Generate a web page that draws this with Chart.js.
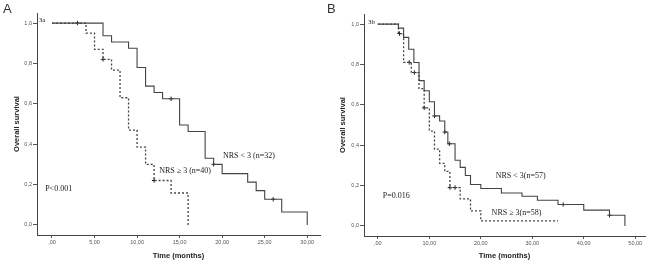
<!DOCTYPE html>
<html>
<head>
<meta charset="utf-8">
<script src="https://cdn.jsdelivr.net/npm/chart.js@4"></script>
<style>
  body { margin: 0; background: #fff; }
  #wrap { position: relative; width: 650px; height: 264px; }
  canvas { position: absolute; top: 0; }
</style>
</head>
<body>
<div id="wrap">
  <canvas id="canvasA" width="325" height="264" style="left:0"></canvas>
  <canvas id="canvasB" width="325" height="264" style="left:325px"></canvas>
</div>
<script>
// ---- panel A (3a) ----
var aLowT  = [0, 6, 7, 9, 10, 11, 12, 13, 15, 16, 18, 19, 20, 23, 24, 25, 27, 30];
var aLowS  = [1, 0.9375, 0.906, 0.875, 0.78, 0.6875, 0.656, 0.625, 0.495, 0.463, 0.33, 0.30, 0.254, 0.212, 0.17, 0.127, 0.064, 0];
var aHighT = [0, 4, 5, 6, 7, 8, 9, 10, 11, 12, 14, 16];
var aHighS = [1, 0.95, 0.87, 0.82, 0.767, 0.63, 0.47, 0.385, 0.30, 0.22, 0.158, 0];
var aLowCensT  = [14, 19, 26];
var aLowCensS  = [0.625, 0.30, 0.127];
var aHighCensT = [3, 6, 12];
var aHighCensS = [1, 0.82, 0.22];
var aXTicks = [0, 5, 10, 15, 20, 25, 30];

// ---- panel B (3b) ----
var bLowT  = [0, 4, 5, 6, 7, 8, 9, 10, 11, 12, 13, 13.6, 15, 16, 17, 18, 20, 24, 28, 31, 35, 40, 45, 48];
var bLowS  = [1, 0.98, 0.934, 0.875, 0.81, 0.72, 0.67, 0.615, 0.545, 0.52, 0.465, 0.407, 0.325, 0.29, 0.25, 0.205, 0.185, 0.163, 0.147, 0.127, 0.106, 0.078, 0.053, 0];
var bHighT = [0, 4, 5, 6.5, 8, 9, 10, 11, 12, 13, 14, 16, 18, 20, 35];
var bHighS = [1, 0.953, 0.81, 0.76, 0.68, 0.585, 0.47, 0.38, 0.31, 0.27, 0.19, 0.134, 0.074, 0.025, 0.025];
var bLowCensT  = [11, 13, 13.9, 36, 45];
var bLowCensS  = [0.545, 0.465, 0.407, 0.106, 0.053];
var bHighCensT = [4.2, 6.1, 7.1, 9, 14, 15];
var bHighCensS = [0.953, 0.81, 0.76, 0.585, 0.19, 0.19];
var bXTicks = [0, 10, 20, 30, 40, 50];

var yTicks = [0, 0.2, 0.4, 0.6, 0.8, 1.0];

function pairs(t, s) {
  return t.map(function(v, i) { return {x: v, y: s[i]}; });
}

var notesPlugin = {
  id: 'notes',
  afterDraw: function(chart) {
    var o = chart.options.plugins.notes;
    var ctx = chart.ctx;
    var xs = chart.scales.x, ys = chart.scales.y;
    ctx.save();
    ctx.fillStyle = '#333';
    ctx.font = '13px "Liberation Sans", Arial, sans-serif';
    ctx.textBaseline = 'alphabetic';
    ctx.textAlign = 'left';
    ctx.fillText(o.panel, o.panelX, 13);
    ctx.fillStyle = '#222';
    ctx.textBaseline = 'middle';
    o.items.forEach(function(it) {
      ctx.font = (it.size || 8) + 'px "Liberation Serif", "Times New Roman", serif';
      ctx.fillText(it.text, xs.getPixelForValue(it.x), ys.getPixelForValue(it.y));
    });
    ctx.restore();
  }
};

function makePanel(id, c) {
  var ctx = document.getElementById(id).getContext('2d');
  var tickFont = {family: '"Liberation Sans", Arial, sans-serif', size: 5.5};
  var titleFont = {family: '"Liberation Sans", Arial, sans-serif', size: 7.5, weight: 'bold'};
  new Chart(ctx, {
    type: 'line',
    data: {
      datasets: [
        {data: pairs(c.lowT, c.lowS), stepped: true, borderColor: '#444', borderWidth: 1.1, pointRadius: 0, fill: false},
        {data: pairs(c.highT, c.highS), stepped: true, borderColor: '#444', borderWidth: 1.3, borderDash: [2, 2], pointRadius: 0, fill: false},
        {type: 'scatter', data: pairs(c.lowCensT, c.lowCensS), pointStyle: 'cross', pointRadius: 2.2, borderColor: '#222', borderWidth: 1},
        {type: 'scatter', data: pairs(c.highCensT, c.highCensS), pointStyle: 'cross', pointRadius: 2.2, borderColor: '#222', borderWidth: 1}
      ]
    },
    options: {
      responsive: false,
      animation: false,
      layout: {padding: {left: 0, top: c.top, right: c.right, bottom: 0}},
      plugins: {
        legend: {display: false},
        tooltip: {enabled: false},
        notes: {panel: c.panel, panelX: c.panelX, items: c.notes}
      },
      scales: {
        x: {
          type: 'linear', min: c.xMin, max: c.xMax,
          afterBuildTicks: function(s) { s.ticks = c.xTicks.map(function(v) { return {value: v}; }); },
          afterFit: function(s) { s.height = c.xH; },
          ticks: {
            font: tickFont, color: '#555', padding: 1, maxRotation: 0, autoSkip: false,
            callback: function(v) { return v === 0 ? ',00' : v.toFixed(2).replace('.', ','); }
          },
          grid: {drawOnChartArea: false, drawTicks: true, tickLength: 3, color: '#555'},
          border: {color: '#444', width: 1},
          title: {display: true, text: 'Time (months)', font: titleFont, color: '#222', padding: {top: 0, bottom: 4}}
        },
        y: {
          type: 'linear', min: -0.05, max: 1.05,
          afterBuildTicks: function(s) { s.ticks = yTicks.map(function(v) { return {value: v}; }); },
          afterFit: function(s) { s.width = c.yW; },
          ticks: {
            font: tickFont, color: '#555', padding: 1,
            callback: function(v) { return v.toFixed(1).replace('.', ','); }
          },
          grid: {drawOnChartArea: false, drawTicks: true, tickLength: 4, color: '#555'},
          border: {color: '#444', width: 1},
          title: {display: true, text: 'Overall survival', font: titleFont, color: '#222', padding: {top: c.yTitlePad, bottom: 0}}
        }
      }
    },
    plugins: [notesPlugin]
  });
}

makePanel('canvasA', {
  lowT: aLowT, lowS: aLowS, highT: aHighT, highS: aHighS,
  lowCensT: aLowCensT, lowCensS: aLowCensS, highCensT: aHighCensT, highCensS: aHighCensS,
  xTicks: aXTicks, xMin: -1.76, xMax: 31.5,
  top: 13, right: 5, xH: 29, yW: 37, yTitlePad: 12.5,
  panel: 'A', panelX: 3,
  notes: [
    {text: '3a', x: -1.55, y: 1.013, size: 7},
    {text: 'NRS < 3 (n=32)', x: 20.1, y: 0.34},
    {text: 'NRS \u2265 3 (n=40)', x: 12.6, y: 0.267},
    {text: 'P<0.001', x: -0.8, y: 0.178}
  ]
});

makePanel('canvasB', {
  lowT: bLowT, lowS: bLowS, highT: bHighT, highS: bHighS,
  lowCensT: bLowCensT, lowCensS: bLowCensS, highCensT: bHighCensT, highCensS: bHighCensS,
  xTicks: bXTicks, xMin: -2.69, xMax: 51.9,
  top: 14, right: 2, xH: 28, yW: 39, yTitlePad: 13.5,
  panel: 'B', panelX: 2,
  notes: [
    {text: '3b', x: -1.9, y: 1.012, size: 7},
    {text: 'NRS < 3(n=57)', x: 22.9, y: 0.248},
    {text: 'NRS \u2265 3(n=58)', x: 22.1, y: 0.064},
    {text: 'P=0.016', x: 0.96, y: 0.149}
  ]
});
</script>
</body>
</html>
